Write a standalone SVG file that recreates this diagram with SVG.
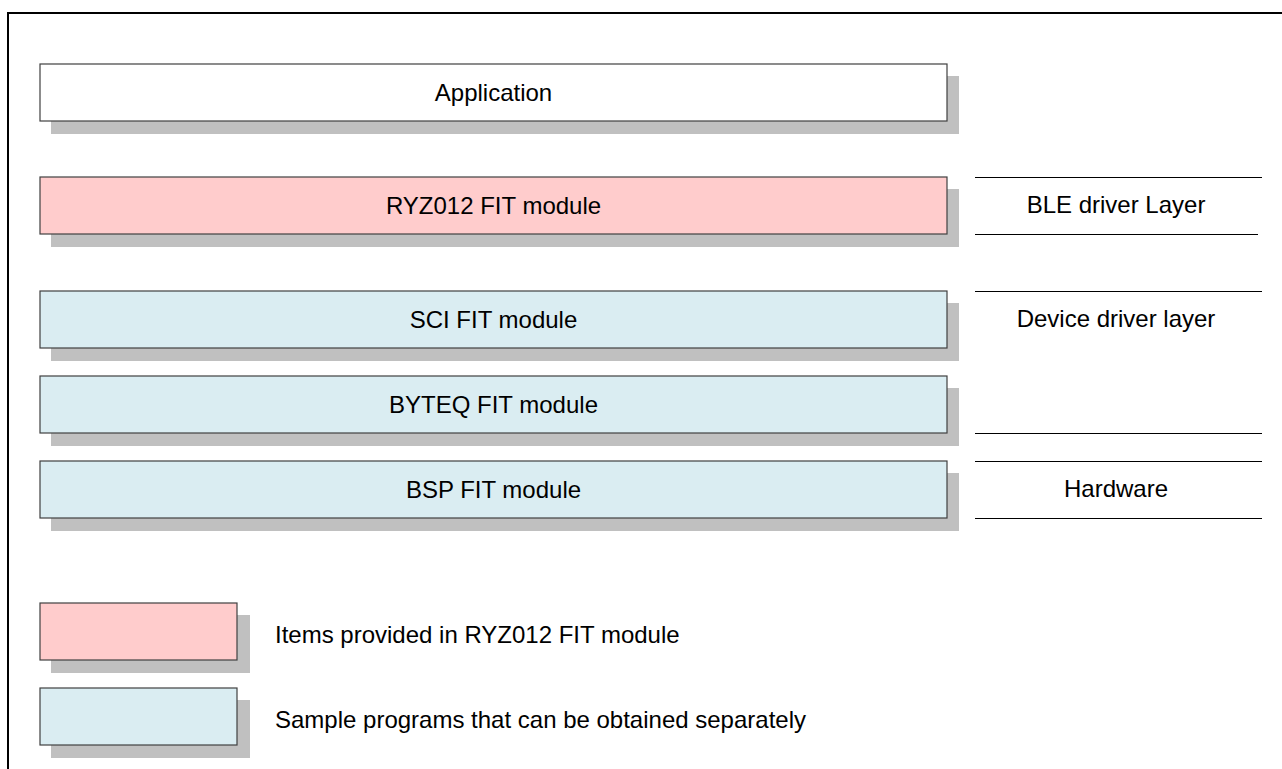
<svg xmlns="http://www.w3.org/2000/svg" width="1282" height="769" viewBox="0 0 1282 769">
<style>
.sh{fill:#c0c0c0;}
.bx{stroke:#404040;stroke-width:1.2;}
.w{fill:#ffffff;}
.p{fill:#ffcccc;}
.b{fill:#daedf2;}
.t{font-family:"Liberation Sans",Arial,sans-serif;font-size:24px;fill:#000;}
.ln{stroke:#000;stroke-width:1;}
</style>
<rect width="1282" height="769" fill="#fff"/>
<path d="M8 769 V13 H1282" fill="none" stroke="#000" stroke-width="2"/>
<g id="application">
<rect class="sh" x="51" y="76" width="908" height="58"/>
<rect class="bx w" x="40" y="64" width="907" height="57"/>
<text class="t" x="493.5" y="101" text-anchor="middle">Application</text>
</g>
<g id="ryz012">
<rect class="sh" x="51" y="189" width="908" height="58"/>
<rect class="bx p" x="40" y="177" width="907" height="57"/>
<text class="t" x="493.5" y="214" text-anchor="middle">RYZ012 FIT module</text>
</g>
<g id="sci">
<rect class="sh" x="51" y="303" width="908" height="58"/>
<rect class="bx b" x="40" y="291" width="907" height="57"/>
<text class="t" x="493.5" y="328" text-anchor="middle">SCI FIT module</text>
</g>
<g id="byteq">
<rect class="sh" x="51" y="388" width="908" height="58"/>
<rect class="bx b" x="40" y="376" width="907" height="57"/>
<text class="t" x="493.5" y="413" text-anchor="middle">BYTEQ FIT module</text>
</g>
<g id="bsp">
<rect class="sh" x="51" y="473" width="908" height="58"/>
<rect class="bx b" x="40" y="461" width="907" height="57"/>
<text class="t" x="493.5" y="498" text-anchor="middle">BSP FIT module</text>
</g>
<g id="layers">
<line class="ln" x1="975" y1="177.5" x2="1262" y2="177.5"/>
<line class="ln" x1="975" y1="234.5" x2="1258" y2="234.5"/>
<text class="t" x="1116" y="213" text-anchor="middle">BLE driver Layer</text>
<line class="ln" x1="975" y1="291.5" x2="1262" y2="291.5" stroke="#404040"/>
<text class="t" x="1116" y="327" text-anchor="middle">Device driver layer</text>
<line class="ln" x1="975" y1="433.5" x2="1262" y2="433.5" stroke="#404040"/>
<line class="ln" x1="975" y1="461.5" x2="1262" y2="461.5"/>
<text class="t" x="1116" y="497" text-anchor="middle">Hardware</text>
<line class="ln" x1="975" y1="518.5" x2="1262" y2="518.5" stroke="#404040"/>
</g>
<g id="legend-provided">
<rect class="sh" x="51" y="615" width="199" height="58"/>
<rect class="bx p" x="40" y="603" width="197" height="57"/>
<text class="t" x="275" y="643">Items provided in RYZ012 FIT module</text>
</g>
<g id="legend-sample">
<rect class="sh" x="51" y="700" width="199" height="58"/>
<rect class="bx b" x="40" y="688" width="197" height="57"/>
<text class="t" x="275" y="728">Sample programs that can be obtained separately</text>
</g>
</svg>
